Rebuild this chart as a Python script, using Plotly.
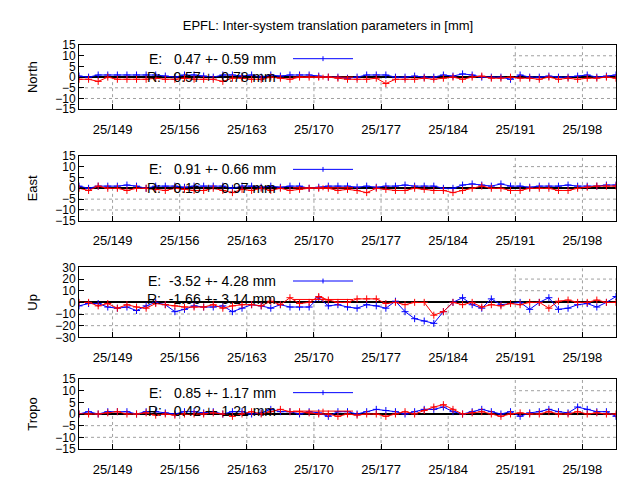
import plotly.graph_objects as go
from plotly.subplots import make_subplots

days = [145.5 + i for i in range(57)]
tick_vals = [149, 156, 163, 170, 177, 184, 191, 198]
tick_text = ["25/149", "25/156", "25/163", "25/170", "25/177", "25/184", "25/191", "25/198"]

panels = ["North", "East", "Up", "Tropo"]
legend_e = ["E:   0.47 +- 0.59 mm", "E:   0.91 +- 0.66 mm", "E:  -3.52 +- 4.28 mm", "E:   0.85 +- 1.17 mm"]
legend_r = ["R:  -0.57 +- 0.78 mm", "R:  -0.16 +- 0.97 mm", "R:  -1.66 +- 3.14 mm", "R:   0.42 +- 1.21 mm"]

north_e = [0.5,0,1,1,1,1,1,1,1,0.5, 0,1,1,0.5,0,1,1,0.5,1,0, 1,0.5,1,1,1,0.5,0,0,-0.5,0, 1,1,1,0,0,0.5,0,0,1,0.5, 1.5,1,0,0,0,-1,1,0,0,0.5, 0,0,0.5,1,0,0.5,1]
north_r = [-1,-1,-2,0,-1,-1,-1,-1,-0.5,-1, -1,-0.5,-1,-1,-1,-2,-0.5,-0.5,-1,-1, 0,-0.5,-1,0,0,0,0,-0.5,-1,-1, -1,-0.5,-3,-1,-1,-1,-0.5,-1,-0.5,0, -1,0,0.5,-0.5,-0.5,0,-0.5,-0.5,-1,0, -1,-0.5,-1,-0.5,-0.5,0,-0.5]
east_e = [1,0,1,1,1,1.5,1,0,1,1, 1,0.5,1,1,1,1,0,1,1,0.5, 1,0.5,1,1,0,0.5,1,1,1,0.5, 1,0.5,1,1,1.5,1,1,1,0,0, 1.5,2,1.5,1,2,1,1,0.5,1,1, 1,1.5,1,1,1,1.5,1.5]
east_r = [0,-1,1,0,0,-1,0,0,-0.5,-1, 0,-0.5,-1,-1,0,-1,-2,-0.5,-1,0, -1,0,-1,-0.5,0,0,0,-1,-0.5,-1, -2,0,-0.5,-1,-1,0,-0.5,-1,-1,-2, -1,0,1,0,0,-1,-1,0,0,0, -1,-1,0,0.5,1,1,1]
up_e = [-3,-1,-1,-4,-5,-4,-7,-3,0,-2, -8,-6,-3,-4,-4,-3,-8,-5,-2,-3, -5,-2,-4,-4,-4,4,-3,-2,-4,-5, -2,-3,-5,1,-8,-14,-16,-18,-8,0, 4,-2,-5,3,-2,-1,0,-6,0,4, -6,-5,-2,-1,-4,0,5]
up_r = [0,0,-3,-1,-5,-2,-4,-5,-1,-2, -3,-4,-4,-4,-2,-5,-3,-2,-2,-3, 1,-2,4,-1,0,5,2,0,0,3, 3,3,-1,0,-2,0,0,-11,-8,0, -2,0,-4,-2,-3,-1,-2,0,0,-5, 1,2,0,0,2,0,0]
tropo_e = [0,1,0,1,1,1,0,1,1,0.5, 0,1,1,0.5,1,0,1,1,0,0.5, 2,1,1,0,1,0.5,-1,1,1,0, 1,2,1.5,1,0,1,2,2,3,1, 0,1,2,1,0,1,-1,0.5,1,2, 1,0.5,3,2,1,1,-1]
tropo_r = [0,0,0,0.5,1,0,0,0.5,-0.5,0, -0.5,0,0,0,0.5,0,-1,0,1,0, 1,2,1,1,0.5,0,0,-1,0,-0.5, 0,0,-1,0,1,0,1.5,3,4,2, 0,0.5,1,0,-1,0,0.5,0,0,1, 0,0,1,0,0.5,0,0]

data_e = [north_e, east_e, up_e, tropo_e]
data_r = [north_r, east_r, up_r, tropo_r]
yranges = [[-15, 15], [-15, 15], [-30, 30], [-15, 15]]
ydtick = [5, 5, 10, 5]

fig = make_subplots(rows=4, cols=1, vertical_spacing=0.1)
pix = [(31, 97), (145, 212), (260, 332), (375, 447)]
H = 480
X0, X1 = 145.5, 201.5
key_x = X0 + (505 - 71) / 537 * (X1 - X0)
grid = dict(color="#a0a0a0", width=1, dash="dot")
for i in range(4):
    r = i + 1
    ya = "yaxis" if r == 1 else f"yaxis{r}"
    xa = "xaxis" if r == 1 else f"xaxis{r}"
    xref = "x" if r == 1 else f"x{r}"
    yref = "y" if r == 1 else f"y{r}"
    y0 = 1 - pix[i][1] / H
    y1 = 1 - pix[i][0] / H
    lo, hi = yranges[i]
    fig.update_layout(**{ya: dict(domain=[y0, y1], range=yranges[i], dtick=ydtick[i],
                                  showgrid=False,
                                  zeroline=True, zerolinecolor="black", zerolinewidth=1.5,
                                  showline=True, mirror=True, linecolor="black", linewidth=1,
                                  ticks="inside", ticklen=5, tickcolor="black",
                                  title=dict(text=panels[i], standoff=14, font=dict(size=13)),
                                  tickfont=dict(size=12), fixedrange=True)})
    fig.update_layout(**{xa: dict(domain=[71 / 640, 608 / 640], range=[X0, X1],
                                  tickvals=tick_vals, ticktext=tick_text,
                                  showgrid=False,
                                  zeroline=False, showline=True, mirror=True, linecolor="black",
                                  ticks="inside", ticklen=5, tickcolor="black", ticklabelstandoff=8,
                                  tickfont=dict(size=13))})
    # manual grid, hidden behind the key area
    for t in tick_vals:
        top = hi if t > key_x else 0
        fig.add_shape(type="line", xref=xref, yref=yref, x0=t, x1=t, y0=lo, y1=top,
                      line=grid, layer="below")
    for v in range(lo + ydtick[i], hi, ydtick[i]):
        if v < 0:
            fig.add_shape(type="line", xref=xref, yref=yref, x0=X0, x1=X1, y0=v, y1=v,
                          line=grid, layer="below")
        elif v > 0:
            fig.add_shape(type="line", xref=xref, yref=yref, x0=key_x, x1=X1, y0=v, y1=v,
                          line=grid, layer="below")
    fig.add_trace(go.Scatter(x=days, y=data_e[i], mode="lines+markers",
                             line=dict(color="blue", width=1),
                             marker=dict(symbol="cross-thin", size=5, line=dict(color="blue", width=1)),
                             showlegend=False), row=r, col=1)
    fig.add_trace(go.Scatter(x=days, y=data_r[i], mode="lines+markers",
                             line=dict(color="red", width=1),
                             marker=dict(symbol="cross-thin", size=5, line=dict(color="red", width=1)),
                             showlegend=False), row=r, col=1)
    ytop = 1 - (pix[i][0] + 14) / H
    ybot = 1 - (pix[i][0] + 33) / H
    for yy, txt, col in [(ytop, legend_e[i], "blue"), (ybot, legend_r[i], "red")]:
        fig.add_annotation(xref="paper", yref="paper", x=270 / 640, y=yy, text=txt,
                           showarrow=False, xanchor="right", yanchor="middle",
                           font=dict(size=14, color="black"))
        fig.add_shape(type="line", xref="paper", yref="paper", x0=285 / 640, x1=345 / 640,
                      y0=yy, y1=yy, line=dict(color=col, width=1))
        fig.add_shape(type="line", xref="paper", yref="paper", x0=315 / 640, x1=315 / 640,
                      y0=yy - 2.5 / H, y1=yy + 2.5 / H, line=dict(color=col, width=1))

fig.update_layout(width=640, height=480, margin=dict(l=0, r=0, t=0, b=0),
                  paper_bgcolor="white", plot_bgcolor="white",
                  font=dict(family="Liberation Sans, Arial, sans-serif", color="black"),
                  title=dict(text="EPFL: Inter-system translation parameters in [mm]",
                             x=0.5, xanchor="center", y=1 - 17 / 480, yanchor="middle",
                             font=dict(size=13)))
fig.write_html("out.html")
